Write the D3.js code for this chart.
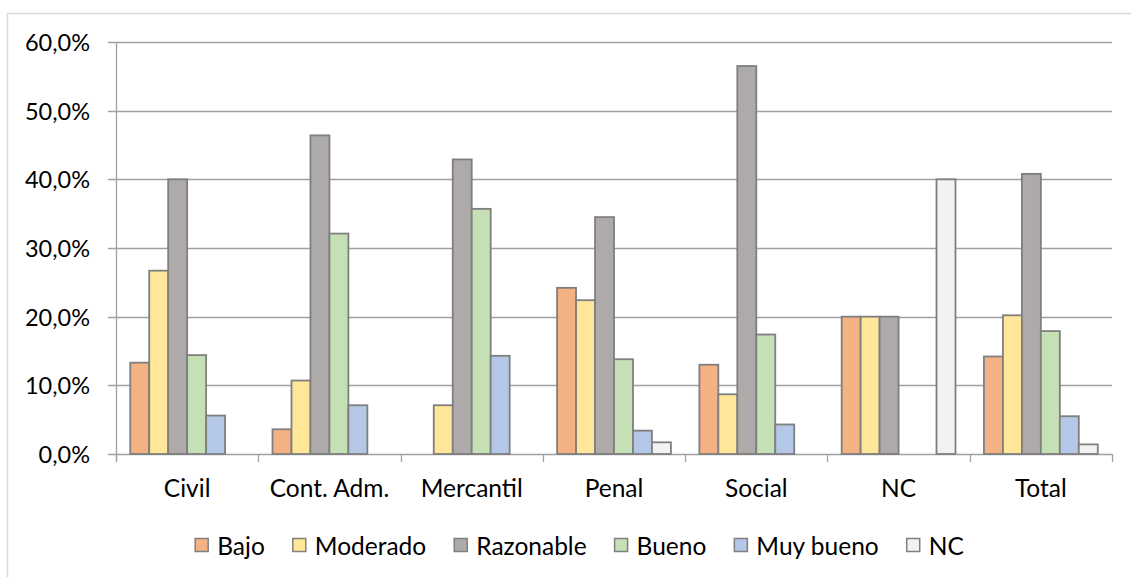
<!DOCTYPE html>
<html>
<head>
<meta charset="utf-8">
<script src="https://cdn.jsdelivr.net/npm/d3@7"></script>
<style>
  html, body { margin: 0; padding: 0; background: #fff; }
  svg { display: block; }
  text { font-family: Lato, "Open Sans", sans-serif; fill: #000; }
</style>
</head>
<body>
<svg id="chart" width="1131" height="577"></svg>
<script>
// ---- Data ----
const categories = ["Civil", "Cont. Adm.", "Mercantil", "Penal", "Social", "NC", "Total"];
const seriesNames = ["Bajo", "Moderado", "Razonable", "Bueno", "Muy bueno", "NC"];
const bajo      = [13.3, 3.6, 0, 24.2, 13.0, 20.0, 14.2];
const moderado  = [26.7, 10.7, 7.1, 22.4, 8.7, 20.0, 20.2];
const razonable = [40.0, 46.4, 42.9, 34.5, 56.5, 20.0, 40.8];
const bueno     = [14.4, 32.1, 35.7, 13.8, 17.4, 0, 17.9];
const muyBueno  = [5.6, 7.1, 14.3, 3.4, 4.3, 0, 5.5];
const nc        = [0, 0, 0, 1.7, 0, 40.0, 1.4];
const yTicks = [0, 10, 20, 30, 40, 50, 60];
const colors = ["#F4B183", "#FFE699", "#AEAAAA", "#C5E0B4", "#B4C7E7", "#F2F2F2"];

const seriesValues = [bajo, moderado, razonable, bueno, muyBueno, nc];

// ---- Layout ----
const svg = d3.select("#chart");
const plot = { left: 116, right: 1112, top: 42, bottom: 454 };

// chart border
svg.append("rect")
  .attr("x", 7.5).attr("y", 13.5)
  .attr("width", 1140).attr("height", 600)
  .attr("fill", "none").attr("stroke", "#d9d9d9").attr("stroke-width", 1.5);

const x0 = d3.scaleBand().domain(categories).range([plot.left, plot.right]).paddingInner(0).paddingOuter(0);
const bw = x0.bandwidth() / 7.5;
const x1 = d3.scaleBand().domain(seriesNames).range([0, bw * 6]);
const y = d3.scaleLinear().domain([0, 60]).range([plot.bottom, plot.top]);

// gridlines
svg.append("g").selectAll("line").data(yTicks).join("line")
  .attr("x1", plot.left - 8).attr("x2", plot.right)
  .attr("y1", d => Math.round(y(d)) + 0.5).attr("y2", d => Math.round(y(d)) + 0.5)
  .attr("stroke", "#a0a0a0").attr("stroke-width", 1.3);

// y axis line
svg.append("line")
  .attr("x1", plot.left + 0.5).attr("x2", plot.left + 0.5)
  .attr("y1", plot.top).attr("y2", plot.bottom + 8)
  .attr("stroke", "#a0a0a0").attr("stroke-width", 1.3);

// category ticks
const catBounds = categories.map(c => x0(c)).concat([plot.right]);
svg.append("g").selectAll("line").data(catBounds).join("line")
  .attr("x1", d => Math.round(d) + 0.5).attr("x2", d => Math.round(d) + 0.5)
  .attr("y1", plot.bottom).attr("y2", plot.bottom + 8)
  .attr("stroke", "#a0a0a0").attr("stroke-width", 1.3);

// y labels
const fmt = d => d.toFixed(1).replace(".", ",") + "%";
svg.append("g").selectAll("text").data(yTicks).join("text")
  .attr("x", 90).attr("y", d => y(d))
  .attr("text-anchor", "end").attr("dominant-baseline", "central")
  .style("font-size", "23.5px")
  .text(fmt);

// bars
const g = svg.append("g");
categories.forEach((cat, ci) => {
  const gx = x0(cat) + bw * 0.75;
  seriesNames.forEach((s, si) => {
    const v = seriesValues[si][ci];
    if (!v) return;
    g.append("rect")
      .attr("x", gx + x1(s))
      .attr("y", y(v))
      .attr("width", x1.bandwidth())
      .attr("height", y(0) - y(v))
      .attr("fill", colors[si])
      .attr("stroke", "#7f7f7f")
      .attr("stroke-width", 1.8);
  });
});

// category labels
svg.append("g").selectAll("text").data(categories).join("text")
  .attr("x", d => x0(d) + x0.bandwidth() / 2)
  .attr("y", 497)
  .attr("text-anchor", "middle")
  .style("font-size", "24.5px")
  .text(d => d);

// legend
const leg = svg.append("g");
let lx = 0;
seriesNames.forEach((s, i) => {
  const it = leg.append("g");
  it.append("rect").attr("x", 0).attr("y", -6.5).attr("width", 13).attr("height", 13)
    .attr("fill", colors[i]).attr("stroke", "#808080").attr("stroke-width", 1.5);
  const t = it.append("text").attr("x", 22).attr("y", 0).attr("dominant-baseline", "central")
    .style("font-size", "24.5px").text(s);
  const w = t.node().getComputedTextLength();
  it.attr("transform", `translate(${lx},0)`);
  lx += 22 + w + 28;
});
const totalW = lx - 28;
leg.attr("transform", `translate(${579.5 - totalW / 2},545)`);
</script>
</body>
</html>
